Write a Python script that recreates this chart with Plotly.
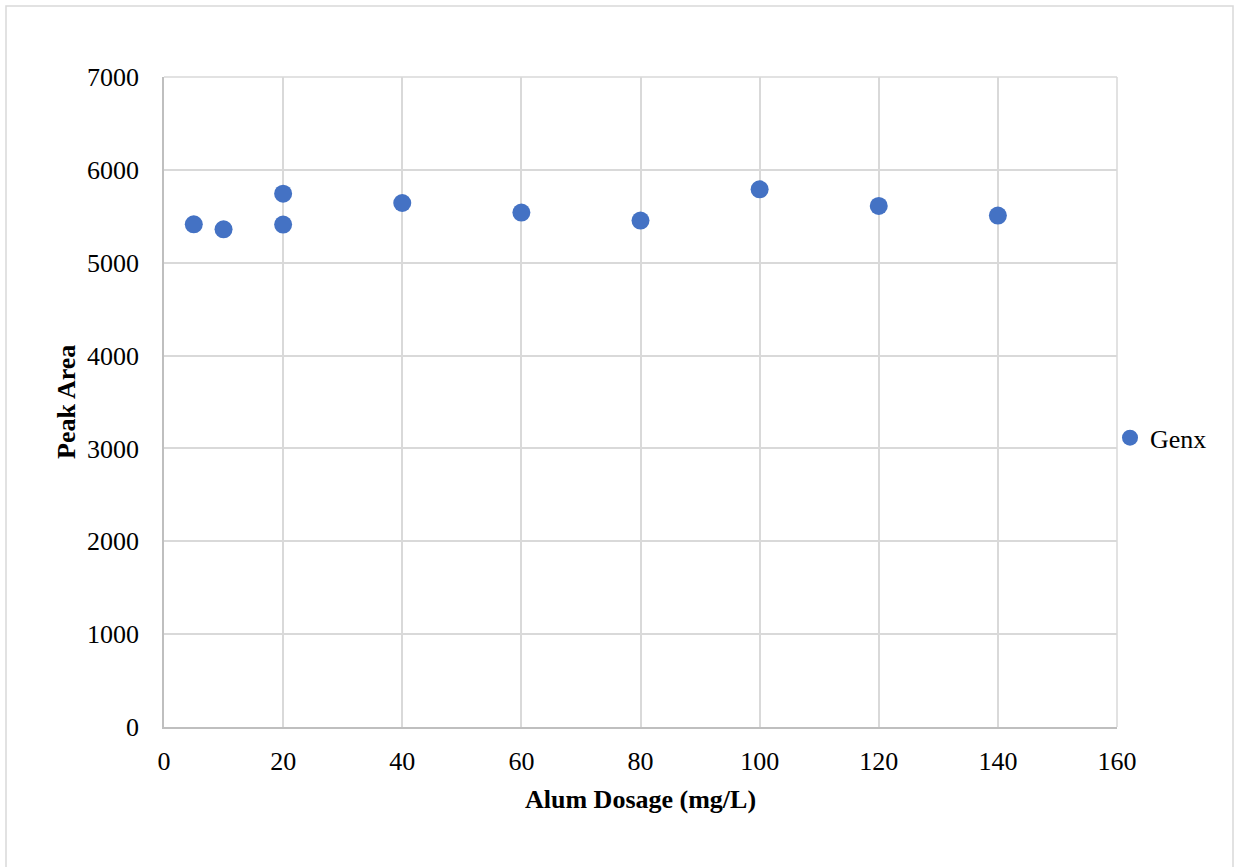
import plotly.graph_objects as go

# Alum dosage (mg/L) and measured GenX peak area
dosage = [5, 10, 20, 20, 40, 60, 80, 100, 120, 140]
peak_area = [5414, 5360, 5744, 5411, 5643, 5540, 5454, 5790, 5611, 5508]

x_ticks = [0, 20, 40, 60, 80, 100, 120, 140, 160]
y_ticks = [0, 1000, 2000, 3000, 4000, 5000, 6000, 7000]

W, H = 1235, 867
L, R, T, B = 164, 118, 77, 140
pw, ph = W - L - R, H - T - B

fig = go.Figure()
fig.add_trace(go.Scatter(
    x=dosage, y=peak_area, mode="markers", name="Genx",
    marker=dict(color="#4472C4", size=18, line=dict(width=0)),
))

font_family = "Liberation Serif, Times New Roman, serif"
grid = "#D9D9D9"

fig.update_layout(
    width=W, height=H,
    margin=dict(l=L, r=R, t=T, b=B, pad=0),
    paper_bgcolor="white", plot_bgcolor="white",
    font=dict(family=font_family, size=26, color="black"),
    showlegend=True,
    legend=dict(x=(1110 - L) / pw, y=0.445, xanchor="left", yanchor="middle",
                font=dict(size=26), itemwidth=30, tracegroupgap=0,
                bgcolor="rgba(0,0,0,0)"),
    xaxis=dict(
        range=[0, 160], tickvals=x_ticks, ticktext=[str(v) for v in x_ticks],
        showgrid=True, gridcolor=grid, gridwidth=1.5,
        showline=True, linecolor="#BFBFBF", linewidth=1.5,
        zeroline=False, ticks="", ticklen=0, ticklabelstandoff=10,
    ),
    yaxis=dict(
        range=[0, 7000], tickvals=y_ticks, ticktext=[str(v) for v in y_ticks],
        showgrid=True, gridcolor=grid, gridwidth=1.5,
        showline=True, linecolor="#BFBFBF", linewidth=1.5,
        zeroline=False, ticks="", ticklen=0, ticklabelstandoff=18,
    ),
    annotations=[
        dict(text="<b>Alum Dosage (mg/L)</b>", xref="paper", yref="paper",
             x=0.5, y=(727 - 800) / ph, xanchor="center", yanchor="middle",
             showarrow=False, font=dict(size=26)),
        dict(text="<b>Peak Area</b>", xref="paper", yref="paper",
             x=(66 - L) / pw, y=0.5, xanchor="center", yanchor="middle",
             textangle=-90, showarrow=False, font=dict(size=26)),
    ],
    shapes=[
        # outer chart frame
        dict(type="rect", xref="paper", yref="paper",
             x0=(6 - L) / pw, x1=(1233 - L) / pw,
             y0=(727 - 875) / ph, y1=(727 - 6) / ph,
             line=dict(color=grid, width=1.5), fillcolor="rgba(0,0,0,0)",
             layer="below"),
        # plot area top and right border
        dict(type="line", xref="paper", yref="paper", x0=0, x1=1, y0=1, y1=1,
             line=dict(color=grid, width=1.5), layer="below"),
        dict(type="line", xref="paper", yref="paper", x0=1, x1=1, y0=0, y1=1,
             line=dict(color=grid, width=1.5), layer="below"),
    ],
)

fig.write_html("out.html")
